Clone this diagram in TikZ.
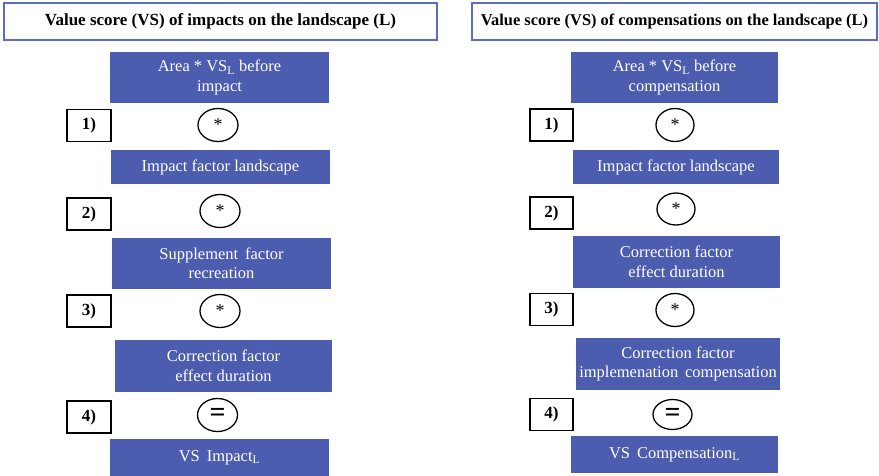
\documentclass[tikz,border=0pt]{standalone}
\usepackage{fontspec}
\setmainfont{Liberation Serif}
\usetikzlibrary{shapes.geometric}
\definecolor{boxblue}{RGB}{76,92,174}
\definecolor{titleblue}{RGB}{92,108,192}
\newcommand{\opstar}{\raisebox{-0.3em}{\fontsize{18}{18}\selectfont *}}
\newcommand{\opeq}{\raisebox{-0.05em}{\fontsize{28}{28}\selectfont\bfseries =}}
\begin{document}
\begin{tikzpicture}[x=1pt,y=-1pt,
  titlebox/.style={draw=titleblue,line width=1.6pt,fill=white,inner sep=0pt,font=\fontsize{17}{19}\selectfont\bfseries},
  bluebox/.style={fill=boxblue,text=white,inner sep=0pt,align=center,font=\fontsize{16.5}{19.5}\selectfont},
  numbox/.style={draw=black,line width=1.3pt,inner sep=0pt,minimum width=44pt,minimum height=32pt,font=\fontsize{17}{19}\selectfont\bfseries},
  opcirc/.style={draw=black,ellipse,line width=1.3pt,inner sep=0pt,minimum width=40pt,minimum height=33pt}
]
\useasboundingbox (0,0) rectangle (879,475);
% titles
\node[titlebox,minimum width=433pt,minimum height=37pt] (tl) at (220.5,21.5) {Value score (VS) of impacts on the landscape (L)};
\node[titlebox,minimum width=405pt,minimum height=37pt,font=\fontsize{16.4}{19}\selectfont\bfseries] (tr) at (674.5,21.5) {Value score (VS) of compensations on the landscape (L)};
% left column
\node[bluebox,minimum width=219pt,minimum height=51pt] (l1) at (219.5,77.5) {Area * VS\textsubscript{L} before\\impact};
\node[bluebox,minimum width=219pt,minimum height=34pt] (l2) at (220.5,167) {Impact factor landscape};
\node[bluebox,minimum width=219pt,minimum height=51pt] (l3) at (221.5,263.5) {Supplement\, factor\\recreation};
\node[bluebox,minimum width=217pt,minimum height=52pt] (l4) at (223.5,366) {Correction factor\\effect duration};
\node[bluebox,minimum width=219pt,minimum height=37pt] (l5) at (219.5,457.5) {VS\, Impact\textsubscript{L}};
\node[opcirc] (lc1) at (218,125) {\opstar};
\node[opcirc] (lc2) at (220,211) {\opstar};
\node[opcirc] (lc3) at (220,311) {\opstar};
\node[opcirc] (lc4) at (217.5,415) {\opeq};
\node[numbox] (ln1) at (89,125.5) {1)};
\node[numbox] (ln2) at (89,214) {2)};
\node[numbox] (ln3) at (89,311) {3)};
\node[numbox] (ln4) at (89,417) {4)};
% right column
\node[bluebox,minimum width=207pt,minimum height=51pt] (r1) at (674.5,77.5) {Area * VS\textsubscript{L} before\\compensation};
\node[bluebox,minimum width=206pt,minimum height=34pt] (r2) at (676,167) {Impact factor landscape};
\node[bluebox,minimum width=207pt,minimum height=52pt] (r3) at (676.5,262) {Correction factor\\effect duration};
\node[bluebox,minimum width=204pt,minimum height=52pt] (r4) at (678,364) {Correction factor\\implemenation\, compensation};
\node[bluebox,minimum width=207pt,minimum height=37pt] (r5) at (674.5,454.5) {VS\, Compensation\textsubscript{L}};
\node[opcirc,minimum width=38pt] (rc1) at (675,125) {\opstar};
\node[opcirc,minimum width=38pt,minimum height=32pt] (rc2) at (676,209) {\opstar};
\node[opcirc,minimum width=38pt] (rc3) at (675,310) {\opstar};
\node[opcirc,minimum width=39pt,minimum height=30pt] (rc4) at (672.5,414.5) {\opeq};
\node[numbox,minimum width=43pt] (rn1) at (551.5,125) {1)};
\node[numbox,minimum width=43pt] (rn2) at (551.5,213) {2)};
\node[numbox,minimum width=43pt] (rn3) at (551.5,309.5) {3)};
\node[numbox,minimum width=43pt] (rn4) at (551.5,414.5) {4)};
\end{tikzpicture}
\end{document}
